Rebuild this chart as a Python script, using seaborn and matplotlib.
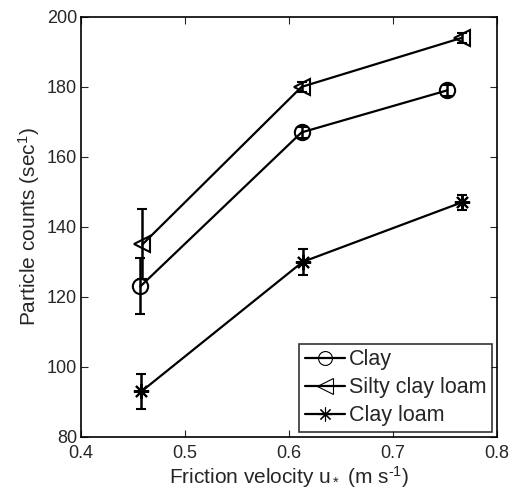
import numpy as np
import pandas as pd
import matplotlib
matplotlib.use("Agg")
import matplotlib.pyplot as plt
import seaborn as sns

# Friction velocity (m/s) for each soil
clay_u = [0.457, 0.612, 0.752]
silty_u = [0.459, 0.612, 0.766]
loam_u = [0.458, 0.613, 0.766]

# Mean particle counts (1/s) and standard deviation
clay_counts = [123, 167, 179]
clay_err = [8, 1.5, 1.5]
silty_counts = [135, 180, 194]
silty_err = [10, 1.5, 1.5]
loam_counts = [93, 130, 147]
loam_err = [5, 3.8, 2.2]

soils = ["Clay", "Silty clay loam", "Clay loam"]

df = pd.concat([
    pd.DataFrame({"u": clay_u, "counts": clay_counts, "err": clay_err, "soil": soils[0]}),
    pd.DataFrame({"u": silty_u, "counts": silty_counts, "err": silty_err, "soil": soils[1]}),
    pd.DataFrame({"u": loam_u, "counts": loam_counts, "err": loam_err, "soil": soils[2]}),
], ignore_index=True)

sns.set_style("ticks")
plt.rcParams["font.family"] = ["Liberation Sans", "DejaVu Sans"]
plt.rcParams["mathtext.fontset"] = "custom"
plt.rcParams["mathtext.rm"] = "Liberation Sans"
plt.rcParams["mathtext.it"] = "Liberation Sans"

fig = plt.figure(figsize=(5.13, 4.96), dpi=100)
ax = fig.add_axes([0.158, 0.119, 0.811, 0.847])

markers = {"Clay": "o", "Silty clay loam": "<", "Clay loam": (8, 2, 0)}
msize = {"Clay": 11, "Silty clay loam": 12, "Clay loam": 11}

for soil in soils:
    sub = df[df["soil"] == soil]
    ax.errorbar(sub["u"], sub["counts"], yerr=sub["err"], fmt="none",
                ecolor="black", elinewidth=1.8, capsize=3.5, capthick=1.5, zorder=2)
    sns.lineplot(data=sub, x="u", y="counts", color="black",
                 marker=markers[soil], markersize=msize[soil],
                 markerfacecolor="none", markeredgecolor="black",
                 markeredgewidth=1.5, linewidth=1.6, sort=False,
                 estimator=None, ax=ax, zorder=3, legend=False)

legsize = {"Clay": 10, "Silty clay loam": 11, "Clay loam": 10}
handles = [plt.Line2D([], [], color="black", lw=1.6, marker=markers[s],
                      markersize=legsize[s], markerfacecolor="none",
                      markeredgecolor="black", markeredgewidth=0.8)
           for s in soils]
leg = ax.legend(handles, soils, loc="lower right", fontsize=15.5,
                frameon=True, fancybox=False, edgecolor="black",
                handlelength=1.85, handletextpad=0.2, borderpad=0.25,
                labelspacing=0.32, borderaxespad=0.25)
leg.get_frame().set_linewidth(1.2)

ax.set_xlim(0.4, 0.8)
ax.set_ylim(80, 200)
ax.set_xticks([0.4, 0.5, 0.6, 0.7, 0.8])
ax.set_yticks(np.arange(80, 201, 20))
ax.set_xticklabels(["0.4", "0.5", "0.6", "0.7", "0.8"])
ax.tick_params(direction="in", length=5, width=0.8, top=True, right=True,
               labelsize=13)
ax.tick_params(axis="x", pad=6)
ax.tick_params(axis="y", pad=3)
for sp in ax.spines.values():
    sp.set_visible(True)
    sp.set_linewidth(1.2)
    sp.set_color("black")

ax.set_xlabel("Friction velocity u$_*$ (m s$^{\u2010 1}$)".replace("\u2010 ", "\u2010"),
              fontsize=15, labelpad=1)
ax.set_ylabel(r"Particle counts (sec$^{1}$)", fontsize=15, labelpad=3)

fig.savefig("out.png", dpi=100)
